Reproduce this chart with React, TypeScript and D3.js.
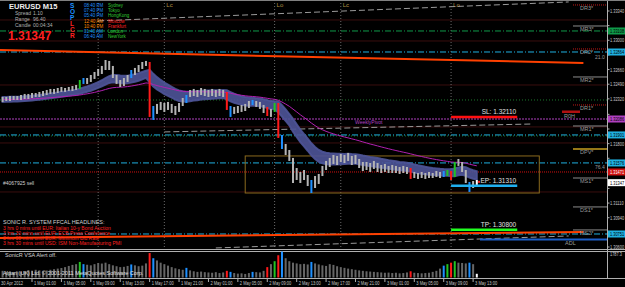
import React from "react";
import * as d3 from "d3";

// ---------- DATA ----------
// 30-minute bars, EURUSD, starting 30 Apr 2012 21:00
const firstBarTime = new Date(2012, 3, 30, 21, 0);
const barHigh = [
  1.32342, 1.32342, 1.32353, 1.32353, 1.32353, 1.32365, 1.32377, 1.32377, 1.32388, 1.32388,
  1.324, 1.32411, 1.32423, 1.32435, 1.32435, 1.32446, 1.32458, 1.32446, 1.32458, 1.32469,
  1.32481, 1.32539, 1.32562, 1.32562, 1.32597, 1.32632, 1.32667, 1.32702, 1.32771, 1.3276,
  1.32702, 1.32597, 1.32539, 1.32562, 1.32597, 1.32655, 1.32679, 1.32713, 1.32748, 1.3276,
  1.32748, 1.32237, 1.32261, 1.32284, 1.32272, 1.32284, 1.32261, 1.32237, 1.32272, 1.3233,
  1.32365, 1.32423, 1.32435, 1.32423, 1.32446, 1.32435, 1.32423, 1.32435, 1.32423, 1.32435,
  1.32423, 1.324, 1.32237, 1.32226, 1.32237, 1.32249, 1.32261, 1.32295, 1.32307, 1.32295,
  1.32284, 1.32249, 1.32226, 1.32203, 1.32272, 1.32272, 1.31901, 1.31796, 1.31726, 1.31634,
  1.31517, 1.31471, 1.31494, 1.31436, 1.31378, 1.31424, 1.31448, 1.31541, 1.31599, 1.31634,
  1.31668, 1.31657, 1.3168, 1.31668, 1.31692, 1.31657, 1.31668, 1.31622, 1.31587, 1.31587,
  1.31575, 1.31599, 1.31575, 1.31552, 1.31564, 1.31541, 1.31552, 1.31541, 1.31529, 1.31541,
  1.31529, 1.31517, 1.31471, 1.31459, 1.31471, 1.31459, 1.31471, 1.31459, 1.31482, 1.31471,
  1.31482, 1.31494, 1.31482, 1.31587, 1.31622, 1.31587, 1.31494, 1.31355, 1.31366, 1.31378,
];
const barLow = [
  1.32284, 1.32295, 1.32295, 1.32307, 1.32307, 1.32307, 1.32318, 1.32318, 1.3233, 1.32342,
  1.32342, 1.32353, 1.32365, 1.32377, 1.32377, 1.32388, 1.324, 1.324, 1.32411, 1.32411,
  1.32423, 1.32435, 1.32493, 1.32493, 1.32516, 1.32551, 1.32586, 1.32609, 1.32655, 1.32655,
  1.32562, 1.32493, 1.32458, 1.32469, 1.32516, 1.32562, 1.32597, 1.32632, 1.32667, 1.32702,
  1.3211, 1.32075, 1.32145, 1.32191, 1.32168, 1.32191, 1.32156, 1.32133, 1.32168, 1.32237,
  1.32272, 1.32342, 1.32353, 1.32342, 1.32365, 1.32353, 1.32342, 1.32353, 1.32342, 1.32353,
  1.32342, 1.32191, 1.3211, 1.32145, 1.32156, 1.32168, 1.32179, 1.32214, 1.32249, 1.32226,
  1.32203, 1.32156, 1.32121, 1.3211, 1.32168, 1.31866, 1.31738, 1.31668, 1.31599, 1.31343,
  1.31378, 1.31343, 1.31378, 1.31308, 1.31227, 1.31285, 1.31332, 1.31424, 1.31494, 1.31529,
  1.31564, 1.31552, 1.31587, 1.31575, 1.31599, 1.31552, 1.31564, 1.31517, 1.31482, 1.31494,
  1.31471, 1.31506, 1.31471, 1.31459, 1.31471, 1.31459, 1.31459, 1.31459, 1.31448, 1.31459,
  1.31448, 1.3139, 1.31401, 1.3139, 1.31401, 1.3139, 1.31401, 1.31401, 1.31413, 1.31401,
  1.31413, 1.31424, 1.31378, 1.31413, 1.31541, 1.31471, 1.31343, 1.31239, 1.31285, 1.3132,
];
// VSA bar signal: n = neutral, b = blue, r = red, g = green, w = current
const barSignal = [
  "n","n","n","n","n","n","n","n","n","n","n","n","n","n","n","n","n","n","n","n",
  "n","g","b","n","n","n","n","n","n","n","n","n","n","n","n","b","n","n","n","n",
  "r","b","n","n","n","n","n","n","n","n","b","n","n","n","n","n","n","n","n","n",
  "n","r","b","n","n","n","n","n","b","n","n","n","r","n","g","r","b","n","n","n",
  "n","n","n","n","b","n","n","n","n","n","n","n","n","n","n","n","n","n","n","n",
  "n","n","n","n","n","n","n","n","n","n","n","r","n","n","n","n","n","n","n","n",
  "b","g","r","g","n","n","n","b","n","w",
];
const volumes = [
  450, 380, 420, 350, 400, 380, 420, 500, 460, 520,
  480, 430, 470, 520, 560, 600, 640, 700, 780, 850,
  900, 1050, 900, 860, 820, 900, 980, 940, 1000, 900,
  820, 760, 700, 720, 780, 880, 820, 760, 800, 950,
  1650, 1300, 1150, 1000, 900, 800, 700, 620, 560, 520,
  650, 480, 420, 380, 400, 360, 340, 320, 360, 300,
  340, 450, 380, 300, 260, 280, 240, 300, 380, 360,
  340, 450, 700, 900, 1100, 1500, 1750, 1300, 1100, 1000,
  950, 900, 920, 880, 1050, 950, 880, 820, 780, 900,
  850, 760, 700, 650, 600, 560, 520, 480, 450, 420,
  400, 380, 360, 340, 320, 330, 300, 320, 280, 300,
  340, 420, 320, 300, 280, 300, 320, 380, 450, 600,
  800, 900, 1000, 1100, 1000, 980, 950, 1000, 900, 250,
];
const volMax = 1787.3;

const priceTicks = [1.3334, 1.3317, 1.33, 1.3283, 1.3266, 1.3249, 1.3232, 1.3214, 1.3197, 1.318, 1.3163, 1.3146, 1.3128, 1.3111, 1.3094, 1.3077, 1.306];
const timeTickLabels = ["1 May 01:00", "1 May 05:00", "1 May 09:00", "1 May 13:00", "1 May 17:00", "1 May 21:00", "2 May 01:00", "2 May 05:00", "2 May 09:00", "2 May 13:00", "2 May 17:00", "2 May 21:00", "3 May 01:00", "3 May 05:00", "3 May 09:00", "3 May 13:00"];
const timeTickValues = [
  new Date(2012, 4, 1, 1), new Date(2012, 4, 1, 5), new Date(2012, 4, 1, 9), new Date(2012, 4, 1, 13),
  new Date(2012, 4, 1, 17), new Date(2012, 4, 1, 21), new Date(2012, 4, 2, 1), new Date(2012, 4, 2, 5),
  new Date(2012, 4, 2, 9), new Date(2012, 4, 2, 13), new Date(2012, 4, 2, 17), new Date(2012, 4, 2, 21),
  new Date(2012, 4, 3, 1), new Date(2012, 4, 3, 5), new Date(2012, 4, 3, 9), new Date(2012, 4, 3, 13),
];

const sessionNames = ["Lo", "Lc", "Lo", "Lc", "Lo"];
const sessionTimes = [
  new Date(2012, 4, 1, 10), new Date(2012, 4, 1, 19), new Date(2012, 4, 2, 10),
  new Date(2012, 4, 2, 19), new Date(2012, 4, 3, 10),
];

const pivotNames = ["DR3*", "MR3*", "DR2*", "MR2*", "DR1*", "MR1*", "DPV*", "MS1*", "DS1*", "MS2*"];
const pivotPrices = [1.3341, 1.33166, 1.32899, 1.32574, 1.32249, 1.32005, 1.31738, 1.31401, 1.31065, 1.30798];
const pivotKinds = ["r", "m", "r", "m", "r", "m", "p", "m", "m", "m"];

// full-width level lines
const levelPrices = [1.33108, 1.32864, 1.31901, 1.31576, 1.30751, 1.31471, 1.32086];
const levelKinds = ["green", "cyan", "cyan", "cyan", "cyan", "red", "purple"];
const faintLevels = [1.33236, 1.32992, 1.32481, 1.31994, 1.31808, 1.31239];
const greenDotted = [1.32307, 1.31889];

const trendStart = [new Date(2012, 3, 30, 20), new Date(2012, 3, 30, 20)];
const trendEnd = [new Date(2012, 4, 4, 4), new Date(2012, 4, 4, 4)];
const trendStartPrice = [1.32888, 1.30705];
const trendEndPrice = [1.32737, 1.30774];

const channelStart = [new Date(2012, 4, 1, 10), new Date(2012, 4, 1, 19), new Date(2012, 4, 2, 2)];
const channelEnd = [new Date(2012, 4, 4, 2), new Date(2012, 4, 3, 21), new Date(2012, 4, 4, 2)];
const channelStartPrice = [1.33225, 1.31936, 1.30589];
const channelEndPrice = [1.33445, 1.32028, 1.30728];

const tradeStart = new Date(2012, 4, 3, 10);
const tradeEnd = new Date(2012, 4, 3, 19);
const stopLoss = 1.3211;
const entryPrice = 1.3131;
const takeProfit = 1.308;
const boxStart = new Date(2012, 4, 2, 6);
const boxEnd = new Date(2012, 4, 3, 22);
const boxHigh = 1.31657;
const boxLow = 1.31227;
const bidPrice = 1.31347;

const sessionClockTimes = ["08:40 PM", "07:40 PM", "05:40 PM", "12:40 AM", "10:40 PM", "01:40 AM", "06:40 AM"];
const sessionClockCities = ["Sydney", "Tokyo", "HongKong", "Moscow", "Frankfurt", "London", "NewYork"];
const sessionClockOpen = [true, true, true, false, false, true, true];

const headlines = [
  "3 hrs 0 mins until EUR: Italian 10-y Bond Auction",
  "3 hrs 30 mins until EUR: ECB Press Conference",
  "3 hrs 30 mins until EUR: Minimum Bid Rate",
  "3 hrs 30 mins until USD: ISM Non-Manufacturing PMI",
];

// ---------- helpers ----------
function ema(values: number[], period: number) {
  const k = 2 / (period + 1);
  const out: number[] = [];
  values.forEach((v, i) => {
    out.push(i === 0 ? v : out[i - 1] + (v - out[i - 1]) * k);
  });
  return out;
}

const FONT = "'Liberation Sans', Arial, sans-serif";

// narrow label for the right price scale
function AxisLabel({ x, y, text, fill }: { x: number; y: number; text: string; fill: string }) {
  return (
    <text transform={`translate(${x},${y}) scale(0.7,1)`} fontSize={5.6} fill={fill}>{text}</text>
  );
}

export default function App() {
  const W = 625;
  const H = 287;
  const plotRight = 607.5;
  const times = barHigh.map((_, i) => new Date(firstBarTime.getTime() + i * 30 * 60000));
  const x = d3.scaleTime().domain([times[0], times[times.length - 1]]).range([2.6, 476.8]);
  const y = d3.scaleLinear().domain([1.306, 1.3334]).range([247, 11]);
  const vy = d3.scaleLinear().domain([0, volMax]).range([277.5, 251]);

  const emaHi = ema(barHigh, 17);
  const emaLo = ema(barLow, 17);
  const mids = barHigh.map((h, i) => (h + barLow[i]) / 2);
  const slow = ema(mids, 45);

  const band = d3
    .area<number>()
    .x((_, i) => x(times[i]))
    .y0((d) => y(d))
    .y1((_, i) => y(emaHi[i]));
  const slowLine = d3
    .line<number>()
    .x((_, i) => x(times[i]))
    .y((d) => y(d));

  const sigColor: Record<string, string> = { n: "#b4b4b4", b: "#1e90ff", r: "#ff1a1a", g: "#22c322", w: "#ffffff" };
  const volColor: Record<string, string> = { n: "#666666", b: "#1e90ff", r: "#ff1a1a", g: "#22c322", w: "#ffffff" };
  const levelColor: Record<string, string> = { green: "#0f9a4a", cyan: "#1fb0e0", red: "#d01010", purple: "#b040c0" };
  const pivotColor: Record<string, string> = { r: "#c01818", m: "#8c8c8c", p: "#c8a020" };

  const bw = 2;
  const boxYs = [...levelPrices, bidPrice].map((p) => y(p));
  const visibleTicks = priceTicks.filter((p) => boxYs.every((by) => Math.abs(by - y(p)) > 6));

  return (
    <svg width={W} height={H} style={{ position: "absolute", left: 0, top: 0, background: "#000" }} fontFamily={FONT}>
      <rect x={0} y={0} width={W} height={H} fill="#000" />
      {/* faint levels */}
      {faintLevels.map((p, i) => (
        <line key={"f" + i} x1={0} x2={plotRight} y1={y(p)} y2={y(p)} stroke="#3a0e0e" strokeWidth={1} />
      ))}
      {greenDotted.map((p, i) => (
        <line key={"gd" + i} x1={0} x2={plotRight} y1={y(p)} y2={y(p)} stroke="#1b7a2c" strokeWidth={1} strokeDasharray="1 2" />
      ))}
      {/* session verticals */}
      {sessionTimes.map((t, i) => (
        <g key={"s" + i}>
          <line x1={x(t)} x2={x(t)} y1={0} y2={249} stroke="#6a6a6a" strokeDasharray="1 2" />
          {i > 0 && <text x={x(t) + 2} y={7} fontSize={6} fill="#b09040">{sessionNames[i]}</text>}
        </g>
      ))}
      {/* channel dashed lines */}
      {channelStart.map((t, i) => (
        <line key={"c" + i} x1={x(t)} x2={x(channelEnd[i])} y1={y(channelStartPrice[i])} y2={y(channelEndPrice[i])}
          stroke="#9a9a9a" strokeDasharray="6 3" strokeWidth={1} />
      ))}
      {/* level lines */}
      {levelPrices.map((p, i) => {
        const k = levelKinds[i];
        const dash = k === "red" ? "1 1" : k === "purple" ? "2 1" : "6 2 1 2";
        return <line key={"l" + i} x1={0} x2={plotRight} y1={y(p)} y2={y(p)} stroke={levelColor[k]} strokeWidth={1} strokeDasharray={dash} />;
      })}
      {/* trend lines orange */}
      {trendStart.map((t, i) => (
        <line key={"t" + i} x1={x(t)} x2={x(trendEnd[i])} y1={y(trendStartPrice[i])} y2={y(trendEndPrice[i])}
          stroke="#ff4000" strokeWidth={2} />
      ))}
      {/* pivot short lines */}
      {pivotPrices.map((p, i) => (
        <g key={"p" + i}>
          <line x1={573} x2={plotRight} y1={y(p)} y2={y(p)} stroke={pivotColor[pivotKinds[i]]}
            strokeWidth={pivotKinds[i] === "p" ? 1.5 : 1} strokeDasharray={pivotKinds[i] === "r" ? "1 1" : undefined} />
          <text x={580} y={y(p) + 5} fontSize={5.5} fill="#9a9a9a">{pivotNames[i]}</text>
        </g>
      ))}
      <rect x={562} y={110.5} width={18} height={2.5} fill="#b01010" />
      <text x={564} y={118} fontSize={5.5} fill="#9a9a9a">R0H</text>
      <text x={565} y={245} fontSize={5.5} fill="#9a9a9a">ADL</text>
      <line x1={480} x2={plotRight} y1={239.5} y2={239.5} stroke="#1d5fc8" strokeWidth={2} />
      <text x={355} y={124} fontSize={5} fill="#b040c0">WeeklyPivot</text>
      <text x={595} y={59} fontSize={5} fill="#9a9a9a">21.0</text>
      <text x={595} y={169} fontSize={5} fill="#9a9a9a">76.4</text>

      {/* box */}
      <rect x={x(boxStart)} y={y(boxHigh)} width={x(boxEnd) - x(boxStart)} height={y(boxLow) - y(boxHigh)}
        fill="none" stroke="#8a6a1e" strokeWidth={1} />

      {/* band + slow ma */}
      <path d={band(emaLo) || ""} fill="#4e5498" fillOpacity={0.9} stroke="#4e5498" strokeWidth={2} strokeOpacity={0.9} />
      <path d={slowLine(slow) || ""} fill="none" stroke="#b020b0" strokeWidth={1} />

      {/* bars */}
      {times.map((t, i) => (
        <rect key={"b" + i} x={x(t) - bw / 2} y={y(barHigh[i])} width={bw}
          height={Math.max(1, y(barLow[i]) - y(barHigh[i]))} fill={sigColor[barSignal[i]]} />
      ))}

      {/* trade lines */}
      <line x1={x(tradeStart)} x2={x(tradeEnd)} y1={y(stopLoss)} y2={y(stopLoss)} stroke="#ff1010" strokeWidth={2.5} />
      <line x1={x(tradeStart)} x2={x(tradeEnd)} y1={y(entryPrice)} y2={y(entryPrice)} stroke="#20b0f0" strokeWidth={2.5} />
      <line x1={x(tradeStart)} x2={x(tradeEnd)} y1={y(takeProfit)} y2={y(takeProfit)} stroke="#20ff20" strokeWidth={2.5} />
      <text x={x(tradeEnd) - 1} y={y(stopLoss) - 3} fontSize={6.5} fill="#e0e0e0" textAnchor="end">SL: 1.32110</text>
      <text x={x(tradeEnd) - 1} y={y(entryPrice) - 3} fontSize={6.5} fill="#e0e0e0" textAnchor="end">EP: 1.31310</text>
      <rect x={x(tradeStart) + 27} y={y(entryPrice) - 5} width={2} height={2} fill="#ff2020" />
      <text x={x(tradeEnd) - 1} y={y(takeProfit) - 3} fontSize={6.5} fill="#e0e0e0" textAnchor="end">TP: 1.30800</text>

      {/* frame */}
      <line x1={plotRight} x2={plotRight} y1={0} y2={278} stroke="#b0b0b0" />
      <line x1={0} x2={W} y1={0.5} y2={0.5} stroke="#808080" />
      <line x1={0} x2={W} y1={249.5} y2={249.5} stroke="#b0b0b0" />
      <line x1={0} x2={W} y1={251.5} y2={251.5} stroke="#b0b0b0" />
      <line x1={0} x2={W} y1={278.5} y2={278.5} stroke="#b0b0b0" />

      {/* price axis */}
      {priceTicks.map((p, i) => (
        <line key={"ptl" + i} x1={plotRight} x2={plotRight + 2} y1={y(p)} y2={y(p)} stroke="#b0b0b0" />
      ))}
      {visibleTicks.map((p, i) => (
        <AxisLabel key={"pt" + i} x={610} y={y(p) + 2} text={p.toFixed(5)} fill="#c8c8c8" />
      ))}
      {/* price boxes */}
      {levelPrices.map((p, i) => (
        <g key={"pb" + i}>
          <rect x={608} y={y(p) - 3.5} width={17} height={7} fill={levelColor[levelKinds[i]]} />
          <AxisLabel x={610} y={y(p) + 2} text={p.toFixed(5)} fill={levelKinds[i] === "red" ? "#fff" : "#000"} />
        </g>
      ))}
      <rect x={608} y={y(bidPrice) - 3.5} width={17} height={7} fill="#ffffff" />
      <AxisLabel x={610} y={y(bidPrice) + 2} text={bidPrice.toFixed(5)} fill="#000" />

      {/* time axis */}
      <text x={1} y={285} fontSize={5.5} fill="#c8c8c8" textLength={22} lengthAdjust="spacingAndGlyphs">30 Apr 2012</text>
      {timeTickValues.map((t, i) => (
        <g key={"tt" + i}>
          <line x1={x(t)} x2={x(t)} y1={278} y2={282} stroke="#b0b0b0" />
          <text x={x(t) + 2} y={285} fontSize={5.5} fill="#c8c8c8" textLength={22} lengthAdjust="spacingAndGlyphs">{timeTickLabels[i]}</text>
        </g>
      ))}

      {/* volumes */}
      {times.map((t, i) => (
        <rect key={"v" + i} x={x(t) - bw / 2} y={vy(volumes[i])} width={bw} height={vy(0) - vy(volumes[i])}
          fill={volColor[barSignal[i]]} />
      ))}
      <text x={5} y={257} fontSize={5.5} fill="#d0d0d0">SonicR VSA    Alert off.</text>
      <text x={3} y={275} fontSize={5.5} fill="#e0e0e0">Alpari (UK) Ltd. © 2001-2011 MetaQuotes Software Corp.</text>
      <AxisLabel x={610} y={256} text="1787.3" fill="#c8c8c8" />

      {/* top-left panel */}
      <text x={9} y={9} fontSize={7.5} fontWeight="bold" fill="#f0f0f0">EURUSD  M15</text>
      <text x={15} y={15} fontSize={5} fill="#b0b0b0">Spread</text>
      <text x={33} y={15} fontSize={5} fill="#b0b0b0">1.10</text>
      <text x={15} y={21} fontSize={5} fill="#b0b0b0">Range</text>
      <text x={33} y={21} fontSize={5} fill="#b0b0b0">96.40</text>
      <text x={15} y={27} fontSize={5} fill="#b0b0b0">Candle</text>
      <text x={33} y={27} fontSize={5} fill="#b0b0b0">00:04:34</text>
      <text x={8} y={40} fontSize={12} fontWeight="bold" fill="#ff2020">{bidPrice.toFixed(5)}</text>
      {["S", "O", "P", "L", "C", "R"].map((c, i) => (
        <text key={"sc" + i} x={70} y={8 + i * 6} fontSize={6.5} fontWeight="bold" fill={i < 3 ? "#1e90ff" : "#ff2020"}>{c}</text>
      ))}
      {sessionClockTimes.map((t, i) => (
        <g key={"ck" + i}>
          <text x={84} y={7 + i * 5.2} fontSize={4.5} fill={sessionClockOpen[i] ? "#1e90ff" : "#ff8c00"}>{t}</text>
          <text x={108} y={7 + i * 5.2} fontSize={4.5} fill={sessionClockOpen[i] ? "#32cd32" : "#ff2020"}>{sessionClockCities[i]}</text>
        </g>
      ))}
      {/* bottom-left texts */}
      <text x={3} y={185} fontSize={5} fill="#d0d0d0">#4067925 sell</text>
      <text x={3} y={224} fontSize={5.5} fill="#d0d0d0">SONIC R. SYSTEM  FFCAL HEADLINES:</text>
      {headlines.map((h, i) => (
        <text key={"h" + i} x={3} y={229.5 + i * 5} fontSize={5} fill="#ff2020">{h}</text>
      ))}
    </svg>
  );
}
